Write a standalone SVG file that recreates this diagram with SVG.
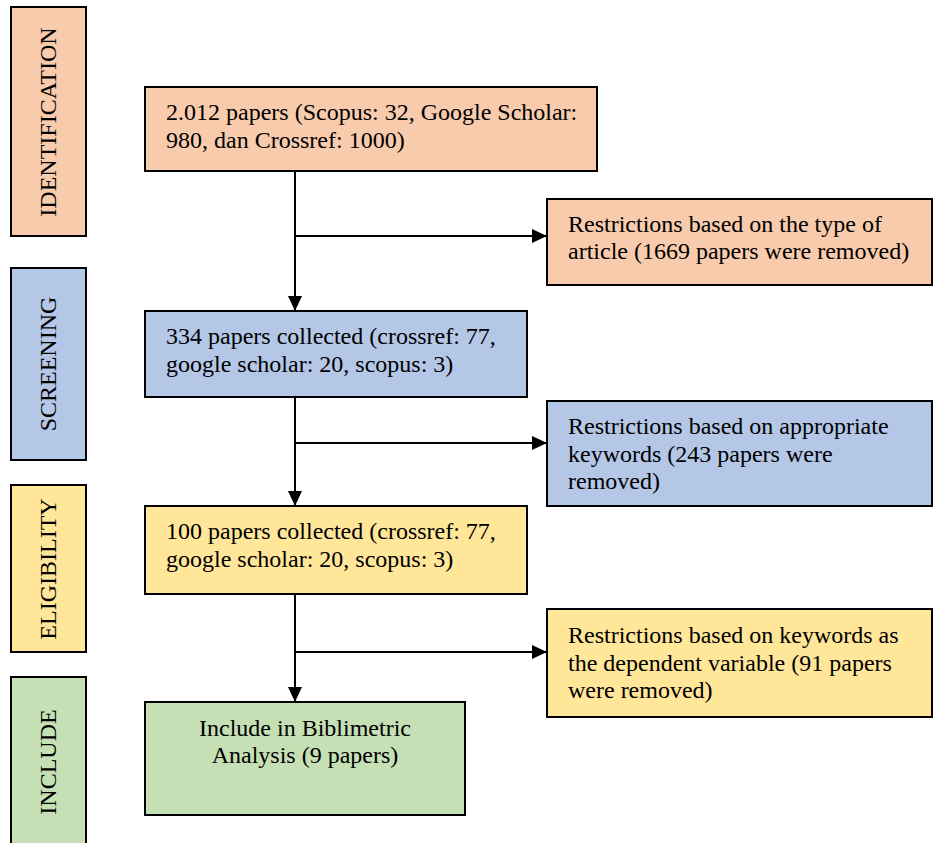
<svg xmlns="http://www.w3.org/2000/svg" width="933" height="843" viewBox="0 0 933 843">
<defs>
<style>
.box{stroke:#000;stroke-width:2}
.or{fill:#F8CBAD}.bl{fill:#B4C7E7}.ye{fill:#FFE699}.gr{fill:#C5E0B4}
text{font-family:'Liberation Serif','DejaVu Serif',serif;font-size:24px;fill:#000}
.side{font-size:24px;text-anchor:middle}
.c{text-anchor:middle}
.conn{stroke:#000;stroke-width:2;fill:none}
</style>
<marker id="ah" markerUnits="userSpaceOnUse" markerWidth="16" markerHeight="14" refX="15" refY="7" orient="auto">
<path d="M0,0 L15,7 L0,14 z" fill="#000"/>
</marker>
</defs>
<rect width="933" height="843" fill="#fff"/>

<g id="stage-identification">
<rect class="box or" x="11" y="7" width="75" height="229"/>
<text class="side" transform="translate(56,122) rotate(-90)">IDENTIFICATION</text>
</g>
<g id="stage-screening">
<rect class="box bl" x="11" y="268" width="75" height="192"/>
<text class="side" transform="translate(56,364) rotate(-90)">SCREENING</text>
</g>
<g id="stage-eligibility">
<rect class="box ye" x="11" y="485" width="75" height="167"/>
<text class="side" transform="translate(56,569) rotate(-90)">ELIGIBILITY</text>
</g>
<g id="stage-include">
<rect class="box gr" x="11" y="677" width="75" height="170"/>
<text class="side" transform="translate(56,762) rotate(-90)">INCLUDE</text>
</g>

<g id="node-papers">
<rect class="box or" x="145" y="87" width="452" height="84"/>
<text x="166" y="120">2.012 papers (Scopus: 32, Google Scholar:</text>
<text x="166" y="148">980, dan Crossref: 1000)</text>
</g>
<g id="node-restrict-type">
<rect class="box or" x="547" y="199" width="385" height="86"/>
<text x="568" y="232">Restrictions based on the type of</text>
<text x="568" y="259">article (1669 papers were removed)</text>
</g>
<g id="node-screening">
<rect class="box bl" x="145" y="311" width="382" height="86"/>
<text x="166" y="344">334 papers collected (crossref: 77,</text>
<text x="166" y="372">google scholar: 20, scopus: 3)</text>
</g>
<g id="node-restrict-keywords">
<rect class="box bl" x="547" y="401" width="385" height="105"/>
<text x="568" y="434">Restrictions based on appropriate</text>
<text x="568" y="462">keywords (243 papers were</text>
<text x="568" y="489">removed)</text>
</g>
<g id="node-eligibility">
<rect class="box ye" x="145" y="506" width="382" height="88"/>
<text x="166" y="539">100 papers collected (crossref: 77,</text>
<text x="166" y="567">google scholar: 20, scopus: 3)</text>
</g>
<g id="node-restrict-dependent">
<rect class="box ye" x="547" y="609" width="385" height="108"/>
<text x="568" y="643">Restrictions based on keywords as</text>
<text x="568" y="671">the dependent variable (91 papers</text>
<text x="568" y="698">were removed)</text>
</g>
<g id="node-include">
<rect class="box gr" x="145" y="702" width="320" height="113"/>
<text class="c" x="305" y="736">Include in Biblimetric</text>
<text class="c" x="305" y="763">Analysis (9 papers)</text>
</g>

<g id="connectors">
<line class="conn" x1="295" y1="171" x2="295" y2="311" marker-end="url(#ah)"/>
<line class="conn" x1="295" y1="236" x2="547" y2="236" marker-end="url(#ah)"/>
<line class="conn" x1="295" y1="397" x2="295" y2="506" marker-end="url(#ah)"/>
<line class="conn" x1="295" y1="443" x2="547" y2="443" marker-end="url(#ah)"/>
<line class="conn" x1="295" y1="594" x2="295" y2="702" marker-end="url(#ah)"/>
<line class="conn" x1="295" y1="652" x2="547" y2="652" marker-end="url(#ah)"/>
</g>
</svg>
